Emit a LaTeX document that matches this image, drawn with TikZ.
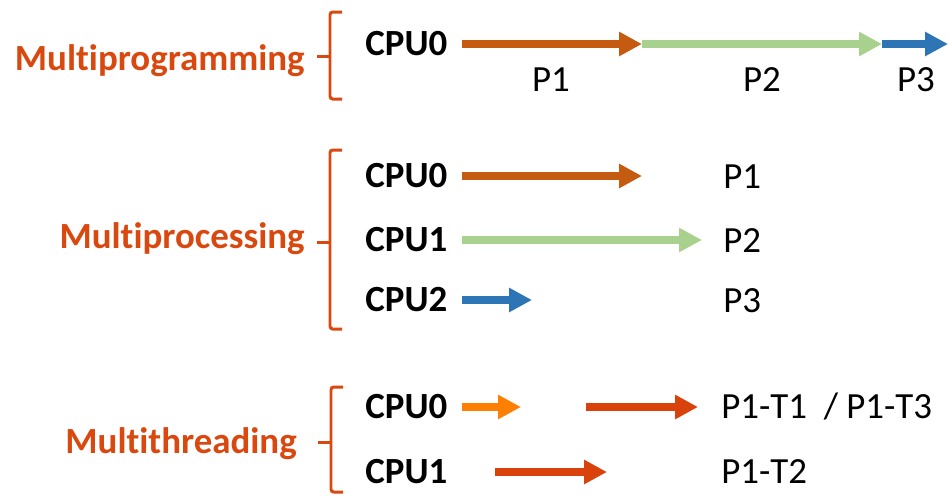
\documentclass[tikz,border=0pt]{standalone}
\usepackage{fontspec}
\setmainfont{Carlito}[Ligatures=NoCommon]
\usetikzlibrary{arrows.meta}
\definecolor{modered}{HTML}{D9480F}
\definecolor{pone}{HTML}{C55A11}
\definecolor{ptwo}{HTML}{A9D18E}
\definecolor{pthree}{HTML}{2E75B6}
\definecolor{tone}{HTML}{FF7F00}
\definecolor{ttwo}{HTML}{D9420B}
\newcommand{\diafont}{\fontsize{21}{25}\selectfont}
\tikzset{
  mode/.style={anchor=base east, inner sep=0pt, font=\diafont\bfseries, text=modered},
  cpu/.style={anchor=west, inner sep=0pt, font=\diafont\bfseries},
  proc/.style={inner sep=0pt, font=\diafont},
  run/.style={line width=4.5pt, -{Triangle[length=13pt,width=13pt]}},
  fromcpu/.style={shorten <=8pt},
  brace/.style={modered, line width=1.7pt, rounded corners=1.5pt}
}
\begin{document}
\begin{tikzpicture}[x=0.02cm, y=-0.02cm]
  \useasboundingbox (0,0) rectangle (949,495);
  % Multiprogramming
  \node[mode] (mprog) at (305,70) {Multiprogramming};
  \draw[brace] (342,12) -- (330,12) -- (330,99) -- (342,99);
  \draw[brace] (330,56) -- (317,56);
  \node[cpu] (g0) at (365,44) {CPU0};
  \coordinate (g1) at (642,44);
  \coordinate (g2) at (882,44);
  \coordinate (g3) at (948,44);
  \draw[run, fromcpu, pone] (g0.east) -- (g1);
  \draw[run, ptwo] (g1) -- (g2);
  \draw[run, pthree] (g2) -- (g3);
  \node[proc, anchor=base] (gp1) at (551,91) {P1};
  \node[proc, anchor=base] (gp2) at (762,91) {P2};
  \node[proc, anchor=base] (gp3) at (916,91) {P3};
  % Multiprocessing
  \node[mode] (mproc) at (305,248) {Multiprocessing};
  \draw[brace] (342,150) -- (330,150) -- (330,329) -- (342,329);
  \draw[brace] (330,242) -- (317,242);
  \node[cpu] (c0) at (365,176) {CPU0};
  \node[cpu] (c1) at (365,240) {CPU1};
  \node[cpu] (c2) at (365,300) {CPU2};
  \coordinate (e0) at (642,176);
  \coordinate (e1) at (702,240);
  \coordinate (e2) at (532,300);
  \draw[run, fromcpu, pone] (c0.east) -- (e0);
  \draw[run, fromcpu, ptwo] (c1.east) -- (e1);
  \draw[run, fromcpu, pthree] (c2.east) -- (e2);
  \node[proc, anchor=base west] (cp1) at (723,188) {P1};
  \node[proc, anchor=base west] (cp2) at (723,252) {P2};
  \node[proc, anchor=base west] (cp3) at (723,312) {P3};
  % Multithreading
  \node[mode] (mthr) at (297,453) {Multithreading};
  \draw[brace] (343,387) -- (331,387) -- (331,492) -- (343,492);
  \draw[brace] (331,442) -- (318,442);
  \node[cpu] (t0) at (365,407) {CPU0};
  \node[cpu] (t1) at (365,472) {CPU1};
  \coordinate (a0) at (521,407);
  \coordinate (b0) at (586,407);
  \coordinate (b1) at (698,407);
  \coordinate (d0) at (495,472);
  \coordinate (d1) at (607,472);
  \draw[run, fromcpu, tone] (t0.east) -- (a0);
  \draw[run, ttwo] (b0) -- (b1);
  \draw[run, ttwo] (d0) -- (d1);
  \node[proc, anchor=base west] (tp1) at (721,418) {P1-T1\ \ / P1-T3};
  \node[proc, anchor=base west] (tp2) at (721,483) {P1-T2};
\end{tikzpicture}
\end{document}
